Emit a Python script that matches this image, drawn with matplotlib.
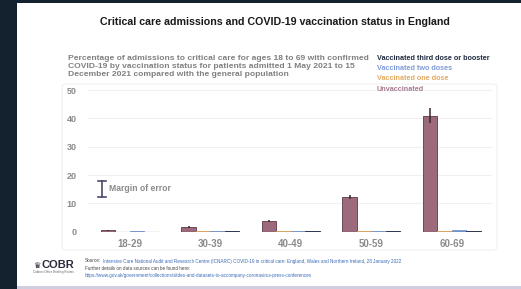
import matplotlib
matplotlib.use("Agg")
import matplotlib.pyplot as plt
from matplotlib.patches import Rectangle, FancyBboxPatch
import numpy as np

plt.rcParams['font.family'] = ['Liberation Sans', 'DejaVu Sans']

# ---- data ----
age_groups = ["18-29", "30-39", "40-49", "50-59", "60-69"]
series_names = ["Unvaccinated", "Vaccinated one dose", "Vaccinated two doses",
                "Vaccinated third dose or booster"]
unvaccinated = [0.5, 1.6, 3.8, 12.2, 41.0]
unvaccinated_low = [0.3, 1.3, 3.4, 11.4, 38.3]
unvaccinated_high = [0.7, 1.9, 4.3, 12.9, 43.5]
one_dose = [0.05, 0.1, 0.1, 0.15, 0.25]
two_doses = [0.1, 0.1, 0.2, 0.35, 0.6]
third_dose = [0.05, 0.1, 0.15, 0.2, 0.3]
yticks = [0, 10, 20, 30, 40, 50]

W, H = 521, 289
fig = plt.figure(figsize=(W / 100, H / 100), dpi=100)
fig.patch.set_facecolor("#14222f")

def px(x, y):
    return x / W, 1 - y / H

# white slide
fig.patches.append(Rectangle(px(17, 286), (W - 17) / W, 283 / H,
                             transform=fig.transFigure, facecolor="white",
                             edgecolor="none", zorder=-5))
# bottom lavender strip
fig.patches.append(Rectangle(px(17, 289), (W - 17) / W, 3 / H,
                             transform=fig.transFigure, facecolor="#cfcde0",
                             edgecolor="none", zorder=-5))
# faint rounded chart panel
fig.patches.append(FancyBboxPatch(px(62, 250), 435 / W, 166 / H,
                                  boxstyle="round,pad=0,rounding_size=0.01",
                                  transform=fig.transFigure, facecolor="none",
                                  edgecolor="#f0f0f0", linewidth=0.8, zorder=-4))

# title
fig.text(*px(275, 22), "Critical care admissions and COVID-19 vaccination status in England",
         ha="center", va="center", fontsize=7.7, fontweight="bold", color="#1a1a1a")

# subtitle
sub = ("Percentage of admissions to critical care for ages 18 to 69 with confirmed\n"
       "COVID-19 by vaccination status for patients admitted 1 May 2021 to 15\n"
       "December 2021 compared with the general population")
fig.text(*px(68, 54.5), sub, ha="left", va="top", fontsize=6.1, fontweight="bold",
         color="#808080", linespacing=1.2)

# legend text
colors = {"Unvaccinated": "#9c6a7c", "Vaccinated one dose": "#e6a558",
          "Vaccinated two doses": "#7896d0", "Vaccinated third dose or booster": "#1f2940"}
legend_text_colors = ["#1f2940", "#7f9bd6", "#e2aa62", "#a57b93"]
legend_order = ["Vaccinated third dose or booster", "Vaccinated two doses",
                "Vaccinated one dose", "Unvaccinated"]
for i, (name, c) in enumerate(zip(legend_order, legend_text_colors)):
    fig.text(*px(377, 58 + i * 10.4), name, ha="left", va="center", fontsize=5.2,
             fontweight="bold", color=c)

# axes
x0, x1 = 88, 492
y0, y1 = 231.7, 90
ax = fig.add_axes([x0 / W, 1 - y0 / H, (x1 - x0) / W, (y0 - y1) / H])
ax.set_facecolor("none")
ax.set_xlim(-0.52, 4.5)
ax.set_ylim(0, 50)
x = np.arange(len(age_groups))
bw = 0.18
series = [unvaccinated, one_dose, two_doses, third_dose]
for k, (name, vals) in enumerate(zip(series_names, series)):
    ax.bar(x + (k - 1.5) * bw, vals, width=bw, color=colors[name],
           edgecolor="#5a3a48" if k == 0 else colors[name], linewidth=0.6, zorder=3)
err_low = np.array(unvaccinated) - np.array(unvaccinated_low)
err_high = np.array(unvaccinated_high) - np.array(unvaccinated)
ax.errorbar(x - 1.5 * bw, unvaccinated, yerr=[err_low, err_high], fmt="none",
            ecolor="#3a2630", elinewidth=1.1, capsize=0, zorder=4)
# baseline under groups
for xi in x:
    ax.plot([xi - 2 * bw, xi + 2 * bw], [0, 0], color="#2a2a3a", lw=0.8, zorder=5,
            solid_capstyle="butt")

ax.set_yticks(yticks)
ax.set_xticks(x)
ax.set_xticklabels(age_groups)
for s in ax.spines.values():
    s.set_visible(False)
ax.grid(axis="y", color="#f0f0f0", linewidth=0.8, zorder=0)
ax.tick_params(axis="both", length=0, colors="#8a8a8a")
ax.tick_params(axis="y", labelsize=6.5, pad=8)
ax.tick_params(axis="x", labelsize=7, pad=5)
for lab in ax.get_xticklabels() + ax.get_yticklabels():
    lab.set_fontweight("bold")

# margin of error key
ax.plot([-0.35, -0.35], [12.4, 18.0], color="#4a4a6a", lw=1.2, zorder=5)
ax.plot([-0.4, -0.3], [18.0, 18.0], color="#4a4a6a", lw=1.2, zorder=5)
ax.plot([-0.4, -0.3], [12.4, 12.4], color="#4a4a6a", lw=1.2, zorder=5)
ax.text(-0.26, 15.2, "Margin of error", ha="left", va="center", fontsize=6.2,
        fontweight="bold", color="#8a8a8a")

# footer logo
fig.text(*px(33, 265.5), "\u265b", ha="left", va="center", fontsize=6, color="#2a2a3a",
         family=["DejaVu Sans"])
fig.text(*px(42, 265), "COBR", ha="left", va="center", fontsize=8, fontweight="bold",
         color="#2a2a3a")
fig.text(*px(33, 272.5), "Cabinet Office Briefing Rooms", ha="left", va="center",
         fontsize=2.2, color="#666666")

# source text
fig.text(*px(85, 261), "Source:", ha="left", va="center", fontsize=3.3, color="#444444")
fig.text(*px(103, 261),
         "Intensive Care National Audit and Research Centre (ICNARC) COVID-19 in critical care: England, Wales and Northern Ireland, 28 January 2022",
         ha="left", va="center", fontsize=3.3, color="#3a6ab8")
fig.text(*px(85, 268), "Further details on data sources can be found here:", ha="left",
         va="center", fontsize=3.3, color="#444444")
fig.text(*px(85, 275),
         "https://www.gov.uk/government/collections/slides-and-datasets-to-accompany-coronavirus-press-conferences",
         ha="left", va="center", fontsize=3.3, color="#3a6ab8")

fig.savefig("out.png", dpi=100)
